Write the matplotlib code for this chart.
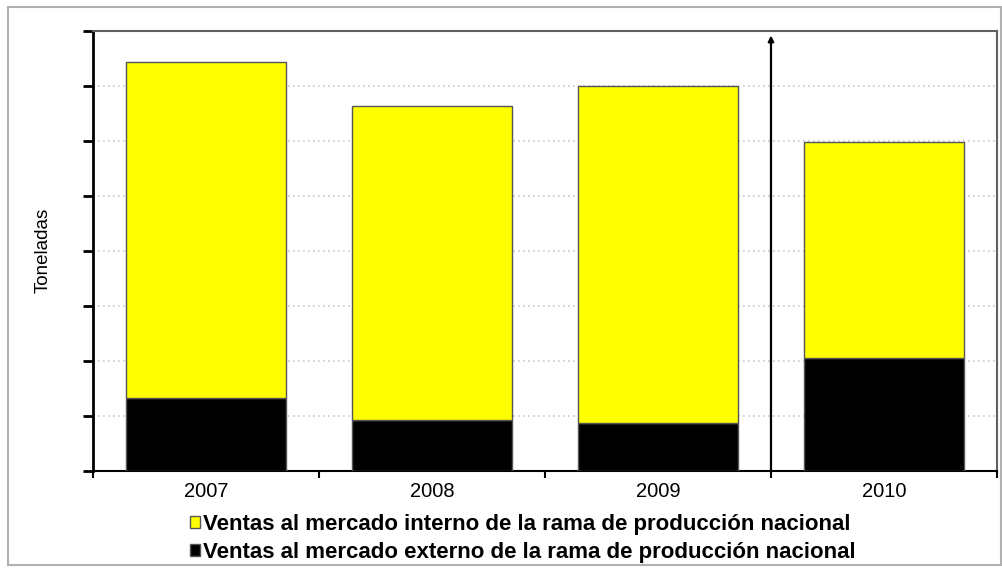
import matplotlib
matplotlib.use("Agg")
import matplotlib.pyplot as plt
from matplotlib.patches import Rectangle, Patch

years = ["2007", "2008", "2009", "2010"]
externo = [1.33, 0.93, 0.87, 2.05]
interno = [6.11, 5.71, 6.13, 3.93]
label_interno = "Ventas al mercado interno de la rama de producción nacional"
label_externo = "Ventas al mercado externo de la rama de producción nacional"
ylabel = "Toneladas"

plt.rcParams["font.family"] = ["Liberation Sans", "DejaVu Sans"]

fig = plt.figure(figsize=(10.03, 5.69), dpi=100)
ax = fig.add_axes([0.0927, 0.1722, 0.9013, 0.7733])

fig.patches.append(Rectangle((0.008, 0.007), 0.99, 0.981, transform=fig.transFigure,
                             fill=False, edgecolor="#b0b0b0", linewidth=1.5))

x = range(len(years))
ax.bar(x, externo, width=0.712, color="black", edgecolor="#555555", linewidth=1, zorder=3)
ax.bar(x, interno, width=0.712, bottom=externo, color="#ffff00", edgecolor="#555555",
       linewidth=1, zorder=3)

ax.set_xlim(-0.5, 3.5)
ax.set_ylim(0, 8)
ax.set_yticks(range(0, 9))
ax.set_yticklabels([])
ax.yaxis.grid(True, linestyle=(0, (1, 2)), color="#c8c8c8", linewidth=1.2, zorder=0)
ax.set_axisbelow(True)

ax.set_xticks(list(x))
ax.set_xticklabels(years, fontsize=14.5)
ax.set_xticks([-0.5, 0.5, 1.5, 2.5, 3.5], minor=True)
ax.tick_params(axis="x", which="major", length=0, pad=8)
ax.tick_params(axis="x", which="minor", length=5, width=1.5, direction="out")
ax.tick_params(axis="y", length=7, width=2, direction="out")

ax.spines["left"].set_linewidth(2)
ax.spines["bottom"].set_linewidth(1.5)
for s in ("top", "right"):
    ax.spines[s].set_color("#606060")
    ax.spines[s].set_linewidth(1.5)

ax.set_ylabel(ylabel, fontsize=13.5)
ax.yaxis.set_label_coords(-0.0453, 0.502)

ax.annotate("", xy=(2.5, 7.92), xytext=(2.5, 0),
            arrowprops=dict(arrowstyle="-|>", color="black", lw=1.6,
                            mutation_scale=8, shrinkA=0, shrinkB=0), zorder=5)

handles = [Patch(facecolor="#ffff00", edgecolor="#555555", label=label_interno),
           Patch(facecolor="black", edgecolor="#555555", label=label_externo)]
fig.legend(handles=handles, loc="upper left", bbox_to_anchor=(0.178, 0.117),
           frameon=False, handlelength=0.45, handleheight=0.45,
           handletextpad=0.15, labelspacing=0.35, borderpad=0,
           prop={"weight": "bold", "size": 16})

fig.savefig("out.png", dpi=100)
